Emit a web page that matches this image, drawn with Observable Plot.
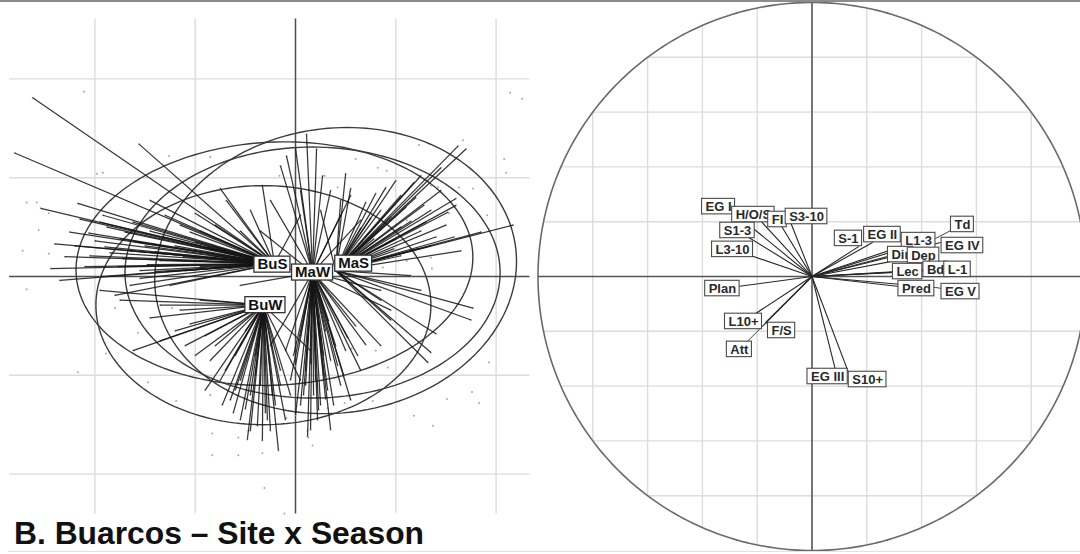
<!DOCTYPE html>
<html>
<head>
<meta charset="utf-8">
<script src="https://cdn.jsdelivr.net/npm/d3@7"></script>
<script src="https://cdn.jsdelivr.net/npm/@observablehq/plot@0.6"></script>
<style>
  body { margin: 0; background: #fff; }
  #fig { position: relative; width: 1080px; height: 554px; overflow: hidden; background: #fff;
         font-family: "Liberation Sans", Arial, sans-serif; }
  #fig .panel { position: absolute; top: 0; }
  #fig svg { max-width: none; }
  #topRule { position: absolute; left: 0; top: 0; width: 1080px; height: 2px; background: #8c8c8c; }
  #bottomRule { position: absolute; left: 8px; top: 551px; width: 1072px; height: 1px; background: #e2e2e2; }
  #title { position: absolute; left: 14px; top: 518px; font-weight: bold; font-size: 31.8px;
           line-height: 1; color: #111; white-space: nowrap; }
</style>
</head>
<body>
<div id="fig">
  <div id="left" class="panel" style="left:0px;width:533px;"></div>
  <div id="right" class="panel" style="left:533px;width:547px;"></div>
  <div id="topRule"></div>
  <div id="bottomRule"></div>
  <div id="title">B. Buarcos – Site x Season</div>
</div>
<script>
// ---------- Between-class scores: site x season groups ----------
const groups = ["BuS", "MaW", "MaS", "BuW"];
const groupCentroidX = [-0.21, 0.17, 0.40, -0.32];
const groupCentroidY = [0.13, 0.04, 0.06, -0.29];
const groupLabelX = [-0.23, 0.17, 0.58, -0.30];
const groupLabelY = [0.12, 0.04, 0.13, -0.29];
// inertia ellipses (semi-axes and tilt in degrees)
const ellipseA = [1.98, 1.87, 1.81, 1.67];
const ellipseB = [1.23, 1.27, 1.44, 1.21];
const ellipseTilt = [3, 0, 8, 0];

// sample scores per group
const busScores = [[-2.62,1.81],[-2.80,1.25],[-1.56,1.34],[-2.54,0.69],[-2.17,0.74],[-2.44,0.08],[-1.95,0.55],
  [-2.06,0.44],[-2.00,0.36],[-1.75,0.38],[-1.85,0.24],[-1.65,0.26],[-1.45,0.46],[-1.77,0.10],[-1.35,0.16],
  [-1.20,0.31],[-2.35,-0.04],[-0.69,0.77],[-0.75,0.89],[-0.33,0.92],[-1.00,0.64],[-1.55,0.06],[-1.95,0.00],
  [-1.25,-0.09],[-1.80,-0.19],[-0.95,0.46],[-1.45,0.77],[-1.10,0.06],[-1.65,-0.09],[-0.55,0.46],[-2.05,0.21],
  [-2.20,0.31],[-1.50,0.31],[-0.85,0.21],[-1.30,0.62],[-0.45,0.67],[0.05,0.62],[-1.70,0.45],[-1.60,0.35],
  [-1.90,0.30],[-1.40,0.25],[-1.00,0.35],[-0.80,0.52],[-1.15,0.52],[-2.10,0.10],[-1.55,-0.02],[-0.70,0.20],
  [-0.60,0.10],[-2.25,0.45],[-1.88,0.50],[-1.62,0.55],[-1.32,0.40],[-1.12,0.20],[-0.95,0.10],[-2.30,0.20],
  [-1.72,0.18],[-1.48,0.12],[-1.28,0.05],[-0.88,0.30],[-1.05,0.45],[-1.92,0.62],[-2.15,0.58],[-1.40,0.05],
  [-2.40,0.33]];
const mawScores = [[0.23,-1.35],[0.05,-1.30],[0.30,-1.24],[0.45,-1.10],[0.10,-1.10],[-0.05,-1.05],[0.35,-0.85],
  [0.50,-0.75],[0.20,-0.75],[-0.10,-0.75],[0.65,-0.95],[0.70,-0.69],[0.85,-0.70],[0.00,-1.40],[-0.25,-0.70],
  [0.55,-1.25],[0.35,-1.55],[0.15,-1.55],[0.00,-0.90],[0.25,-0.64],[0.11,1.44],[0.21,1.29],[0.00,1.30],
  [-0.09,1.22],[-0.15,1.12],[0.27,1.02],[0.35,0.87],[0.05,0.87],[-0.25,0.77],[0.55,0.82],[0.45,0.62],
  [-0.35,0.46],[0.65,0.57],[0.85,-0.14],[-0.55,-0.09],[0.95,-0.34],[-0.65,0.16],[0.10,-0.95],[0.28,-1.00],
  [0.38,-1.30],[0.18,-1.20],[0.42,-0.90],[0.05,-0.60],[0.33,-0.45],[0.60,-0.50],[0.22,-1.45],[0.12,-1.62],
  [0.28,-0.80],[0.40,-0.70],[0.15,-0.88],[0.08,-1.20],[0.32,-1.15],[0.48,-1.00],[0.25,-1.30],[-0.02,-0.80],
  [0.52,-0.62],[0.62,-0.80],[0.20,-1.05],[0.30,-0.55]];
const masScores = [[1.62,1.32],[1.70,1.29],[1.60,0.79],[1.60,0.72],[2.17,0.52],[1.25,0.46],[1.35,0.67],
  [1.45,0.87],[1.05,0.82],[1.15,0.56],[0.85,0.67],[1.00,0.38],[1.50,0.52],[1.25,1.02],[1.00,0.97],[0.80,0.84],
  [0.75,0.59],[0.55,0.89],[0.45,0.77],[0.25,0.67],[1.35,0.31],[1.65,0.26],[1.05,0.21],[1.75,-0.44],
  [1.40,-0.58],[1.32,-0.87],[1.35,-0.77],[1.25,-0.14],[1.77,-0.32],[0.95,-0.44],[0.85,-0.24],[1.15,0.01],
  [0.78,0.38],[0.65,0.49],[0.50,1.04],[1.10,0.70],[1.20,0.80],[1.30,0.55],[1.40,0.40],[0.95,0.60],[0.90,0.90],
  [1.18,0.95],[1.52,0.65],[1.28,0.72],[0.70,0.75],[1.05,0.50],[1.58,0.40],[1.45,1.10],[0.98,0.28],[1.22,0.28],
  [1.85,0.45]];
const buwScores = [[-0.17,-1.76],[-1.62,-0.75],[-1.35,-0.65],[-1.10,-0.70],[-1.45,-0.42],[-1.05,-0.48],
  [-0.85,-0.85],[-0.70,-0.95],[-0.65,-1.25],[-0.73,-1.30],[-0.50,-1.34],[-0.45,-1.56],[-0.38,-1.51],
  [-0.25,-1.56],[-0.33,-1.66],[-0.10,-1.45],[-0.05,-1.20],[0.05,-1.05],[-0.55,-1.05],[-0.90,-1.15],
  [-0.80,-0.70],[-1.15,-0.34],[-0.95,-0.24],[-1.35,-0.29],[-1.75,-0.24],[-1.95,-0.14],[-0.23,-1.20],
  [-0.40,-1.00],[-0.60,-0.80],[-0.15,-0.95],[-0.50,-0.55],[0.15,-0.75],[-1.00,-0.80],[-0.30,-1.38],
  [-0.55,-1.45],[-0.45,-1.20],[-0.35,-1.10],[-0.60,-1.15],[-0.20,-1.30],[-0.75,-1.05],[-0.40,-0.80],
  [-0.28,-1.45],[-0.62,-1.38],[-0.90,-0.60],[-1.20,-0.55],[-0.15,-1.10],[-0.48,-1.65]];
const groupScores = [busScores, mawScores, masScores, buwScores];

// further samples shown as points only
const extraPoints = [[-2.11,1.87],[2.14,1.86],[2.26,1.80],[-2.68,0.75],[-2.58,0.75],[-2.46,0.64],[-2.56,0.47],
  [-2.72,0.26],[-2.46,0.23],[-1.98,1.04],[-1.92,1.05],[-1.56,0.99],[-0.85,1.21],[-1.26,1.22],[1.23,1.33],
  [2.08,1.19],[2.10,1.05],[1.67,1.38],[0.60,1.19],[0.82,1.10],[0.91,1.07],[1.35,0.92],[1.42,0.90],[1.63,0.90],
  [1.77,0.89],[1.53,0.64],[1.91,0.62],[1.11,0.57],[1.35,0.19],[1.11,0.16],[0.87,0.09],[0.29,1.02],[-0.16,1.02],
  [0.42,0.90],[-2.68,-0.13],[-1.89,-0.78],[-2.17,-0.97],[-1.47,-1.07],[-1.19,-1.26],[-0.85,-1.20],[-0.83,-1.59],
  [-0.57,-1.63],[-0.47,-1.56],[-0.83,-1.81],[-0.57,-1.81],[-0.33,-1.79],[-0.31,-2.14],[-0.11,-2.40],[0.12,-1.56],
  [0.13,-1.63],[0.17,-1.71],[-0.09,-1.43],[0.49,-1.28],[0.77,-1.26],[1.18,-1.41],[1.51,-1.24],[1.76,-1.17],
  [1.83,-1.28],[1.93,-0.87],[0.56,-0.73],[0.80,-0.75],[0.92,-0.92],[-1.80,-0.32],[-1.57,-0.57],[-1.23,-0.32],
  [0.32,-1.33],[1.36,0.08],[1.37,-1.51],[0.48,-1.02]];

const scoreGrid = [-2, -1, 1, 2];
const scoreExtentX = [-2.855, 2.333];
const scoreExtentY = [-2.399, 2.611];

// ---------- Variable correlations (correlation circle) ----------
const varNames = ["EG I","H/O/S","FI","S3-10","S1-3","L3-10","Plan","S-1","EG II","L1-3","Td","EG IV",
  "Dir","Dep","Lec","Bd","L-1","Pred","EG V","L10+","F/S","Att","EG III","S10+"];
const varX = [-0.268,-0.206,-0.126,-0.078,-0.272,-0.290,-0.327,0.170,0.221,0.389,0.451,0.469,
  0.323,0.407,0.349,0.451,0.531,0.381,0.451,-0.250,-0.170,-0.181,0.086,0.133];
const varY = [0.219,0.223,0.208,0.197,0.168,0.099,-0.044,0.109,0.124,0.131,0.139,0.124,
  0.080,0.077,0.018,0.026,0.026,-0.044,-0.040,-0.164,-0.168,-0.182,-0.343,-0.350];
const varLabelX = [-0.341,-0.214,-0.126,-0.020,-0.272,-0.290,-0.327,0.133,0.257,0.389,0.549,0.549,
  0.323,0.407,0.349,0.451,0.531,0.381,0.542,-0.250,-0.111,-0.265,0.057,0.203];
const varLabelY = [0.255,0.226,0.208,0.219,0.168,0.099,-0.044,0.139,0.153,0.131,0.190,0.113,
  0.080,0.077,0.018,0.026,0.026,-0.044,-0.055,-0.164,-0.197,-0.266,-0.365,-0.376];
const circleGrid = [-0.8, -0.6, -0.4, -0.2, 0.2, 0.4, 0.6, 0.8];

// ---------- helpers ----------
const FONT = '"Liberation Sans", Arial, sans-serif';
const measureCtx = document.createElement("canvas").getContext("2d");
function textWidth(s, size) {
  measureCtx.font = `bold ${size}px ${FONT}`;
  return measureCtx.measureText(s).width;
}
// a boxed label: white rectangle sized to the text, then the text
function boxedLabel(text, x, y, size, padX, boxH, kx, ky, opts = {}) {
  const hw = (textWidth(text, size) / 2 + padX) / kx;
  const hh = (boxH / 2) / ky;
  const d = [{text, x, y, x1: x - hw, x2: x + hw, y1: y - hh, y2: y + hh}];
  return [
    Plot.rect(d, {x1: "x1", x2: "x2", y1: "y1", y2: "y2", fill: "white",
      stroke: opts.stroke ?? "#4a4a4a", strokeWidth: opts.strokeWidth ?? 1.1}),
    Plot.text(d, {x: "x", y: "y", text: "text", fontSize: size, fontWeight: "bold",
      fill: opts.fill ?? "#2a2a2a", fontFamily: FONT})
  ];
}
function ellipsePath(cx, cy, a, b, tiltDeg, name) {
  const th = tiltDeg * Math.PI / 180, pts = [];
  for (let i = 0; i <= 180; i++) {
    const t = (i / 180) * 2 * Math.PI;
    pts.push({g: name,
      x: cx + a * Math.cos(t) * Math.cos(th) - b * Math.sin(t) * Math.sin(th),
      y: cy + a * Math.cos(t) * Math.sin(th) + b * Math.sin(t) * Math.cos(th)});
  }
  return pts;
}

// ---------- left panel: class scores with stars and ellipses ----------
{
  const W = 533, H = 522, ox = 295, oy = 276, kx = 100.3, ky = 98.8;
  const stars = groups.flatMap((g, i) => groupScores[i].map(([x, y]) =>
    ({g, cx: groupCentroidX[i], cy: groupCentroidY[i], x, y})));
  const samples = groupScores.flat().concat(extraPoints).map(([x, y]) => ({x, y}));
  const ellipses = groups.flatMap((g, i) =>
    ellipsePath(groupCentroidX[i], groupCentroidY[i], ellipseA[i], ellipseB[i], ellipseTilt[i], g));
  const gridV = scoreGrid.map(v => ({v}));

  const chart = Plot.plot({
    width: W, height: H, margin: 0,
    x: {domain: [-ox / kx, (W - ox) / kx], range: [0, W], axis: null},
    y: {domain: [(oy - H) / ky, oy / ky], range: [H, 0], axis: null},
    style: {background: "transparent", overflow: "visible"},
    marks: [
      Plot.link(gridV, {x1: "v", x2: "v", y1: scoreExtentY[0], y2: scoreExtentY[1], stroke: "#dcdcdc", strokeWidth: 1.4}),
      Plot.link(gridV, {y1: "v", y2: "v", x1: scoreExtentX[0], x2: scoreExtentX[1], stroke: "#dcdcdc", strokeWidth: 1.4}),
      Plot.link([0], {x1: 0, x2: 0, y1: scoreExtentY[0], y2: scoreExtentY[1], stroke: "#4d4d4d", strokeWidth: 1.5}),
      Plot.link([0], {y1: 0, y2: 0, x1: scoreExtentX[0], x2: scoreExtentX[1], stroke: "#4d4d4d", strokeWidth: 1.5}),
      Plot.dot(samples, {x: "x", y: "y", r: 1, fill: "#a8a8a8", stroke: null}),
      Plot.line(ellipses, {x: "x", y: "y", z: "g", stroke: "#3c3c3c", strokeWidth: 1.4, fill: "none"}),
      Plot.link(stars, {x1: "cx", y1: "cy", x2: "x", y2: "y", stroke: "#151515", strokeWidth: 1.25, strokeOpacity: 0.85}),
      ...groups.flatMap((g, i) => boxedLabel(g, groupLabelX[i], groupLabelY[i], 15, 3, 16, kx, ky,
        {stroke: "#333", strokeWidth: 1.3, fill: "#111"}))
    ]
  });
  document.getElementById("left").append(chart);
}

// ---------- right panel: correlation circle ----------
{
  const W = 547, H = 554, ox = 278.5, oy = 276, k = 274;
  const circle = d3.range(0, 361).map(a => ({x: Math.cos(a * Math.PI / 180), y: Math.sin(a * Math.PI / 180)}));
  const gridC = circleGrid.map(v => ({v, h: Math.sqrt(1 - v * v)}));
  const vars = varNames.map((name, i) => ({name, x: varX[i], y: varY[i], lx: varLabelX[i], ly: varLabelY[i]}));
  const moved = vars.filter(d => Math.hypot(d.x - d.lx, d.y - d.ly) > 0.005);

  const chart = Plot.plot({
    width: W, height: H, margin: 0,
    x: {domain: [-ox / k, (W - ox) / k], range: [0, W], axis: null},
    y: {domain: [(oy - H) / k, oy / k], range: [H, 0], axis: null},
    style: {background: "transparent", overflow: "visible"},
    marks: [
      Plot.link(gridC, {x1: "v", x2: "v", y1: d => -d.h, y2: "h", stroke: "#dcdcdc", strokeWidth: 1.4}),
      Plot.link(gridC, {y1: "v", y2: "v", x1: d => -d.h, x2: "h", stroke: "#dcdcdc", strokeWidth: 1.4}),
      Plot.link([0], {x1: -1, x2: 1, y1: 0, y2: 0, stroke: "#555", strokeWidth: 1.6}),
      Plot.link([0], {x1: 0, x2: 0, y1: -1, y2: 1, stroke: "#555", strokeWidth: 1.6}),
      Plot.line(circle, {x: "x", y: "y", stroke: "#6a6a6a", strokeWidth: 1.6}),
      Plot.link(vars, {x1: 0, y1: 0, x2: "x", y2: "y", stroke: "#262626", strokeWidth: 1.1}),
      Plot.link(moved, {x1: "x", y1: "y", x2: "lx", y2: "ly", stroke: "#444", strokeWidth: 1}),
      ...vars.flatMap(d => boxedLabel(d.name, d.lx, d.ly, 13, 3.5, 15.5, k, k))
    ]
  });
  document.getElementById("right").append(chart);
}
</script>
</body>
</html>
